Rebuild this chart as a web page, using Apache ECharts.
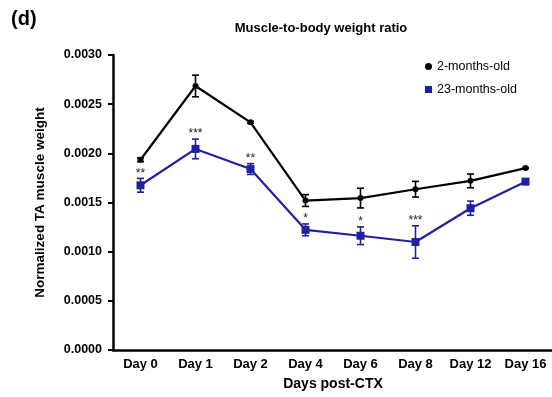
<!DOCTYPE html>
<html><head><meta charset="utf-8">
<script src="https://cdn.jsdelivr.net/npm/echarts@6/dist/echarts.min.js"></script>
<style>html,body{margin:0;padding:0;background:#fff}#c{width:552px;height:397px}</style>
</head><body><div id="c"></div>
<script>
const categories = ["Day 0","Day 1","Day 2","Day 4","Day 6","Day 8","Day 12","Day 16"];
const youngMean = [0.001935,0.002685,0.002315,0.001520,0.001545,0.001635,0.001720,0.001850];
const youngErr  = [0.000020,0.000110,0.000010,0.000060,0.000100,0.000080,0.000070,0.000005];
const oldMean   = [0.001675,0.002045,0.001840,0.001222,0.001162,0.001098,0.001442,0.001712];
const oldErr    = [0.000070,0.000100,0.000055,0.000060,0.000090,0.000165,0.000072,0.000008];
const stars     = ["**","***","**","*","*","***","",""];
const yTicks = {min:0, max:0.003, interval:0.0005};

const FONT = "Liberation Sans";
const BLACK = "#000000";
const BLUE = "#1e22a0";

function errData(mean, err){ return mean.map((m,i)=>[i, m-err[i], m+err[i]]); }
function errRender(color){
  return function(params, api){
    const x = api.value(0);
    const lo = api.coord([x, api.value(1)]);
    const hi = api.coord([x, api.value(2)]);
    const hw = 3.5;
    const st = {stroke: color, lineWidth: 1.6};
    return {type:'group', children:[
      {type:'line', shape:{x1:lo[0],y1:lo[1],x2:hi[0],y2:hi[1]}, style:st},
      {type:'line', shape:{x1:lo[0]-hw,y1:lo[1],x2:lo[0]+hw,y2:lo[1]}, style:st},
      {type:'line', shape:{x1:hi[0]-hw,y1:hi[1],x2:hi[0]+hw,y2:hi[1]}, style:st}
    ]};
  };
}

const chart = echarts.init(document.getElementById('c'), null, {renderer:'canvas'});
chart.setOption({
  animation:false,
  backgroundColor:'#fff',
  title:[
    {text:'(d)', left:6, top:4, textStyle:{fontFamily:FONT, fontWeight:'bold', fontSize:20, color:BLACK}},
    {text:'Muscle-to-body weight ratio', left:316, top:17, textAlign:'center', textStyle:{fontFamily:FONT, fontWeight:'bold', fontSize:13, color:BLACK}}
  ],
  legend:{
    orient:'vertical', left:420, top:55, itemGap:10, itemWidth:7, itemHeight:7,
    textStyle:{fontFamily:FONT, fontSize:12.5, color:BLACK},
    data:[{name:'2-months-old', icon:'circle'},{name:'23-months-old', icon:'rect'}]
  },
  grid:{left:113, right:-1, top:55, bottom:47, containLabel:false, outerBoundsMode:'none'},
  xAxis:{
    type:'category', data:categories, boundaryGap:true,
    name:'Days post-CTX', nameLocation:'middle', nameGap:27,
    nameTextStyle:{fontFamily:FONT, fontWeight:'bold', fontSize:14, color:BLACK},
    axisLine:{lineStyle:{color:BLACK, width:2.5}},
    axisTick:{alignWithLabel:true, length:5, lineStyle:{color:BLACK, width:2}},
    axisLabel:{fontFamily:FONT, fontWeight:'bold', fontSize:13, color:BLACK, margin:8}
  },
  yAxis:{
    type:'value', min:yTicks.min, max:yTicks.max, interval:yTicks.interval,
    name:'Normalized TA muscle weight', nameLocation:'middle', nameGap:66, nameRotate:90,
    nameTextStyle:{fontFamily:FONT, fontWeight:'bold', fontSize:13.5, color:BLACK},
    splitLine:{show:false},
    axisLine:{show:true, lineStyle:{color:BLACK, width:2.5}},
    axisTick:{show:true, length:5, lineStyle:{color:BLACK, width:2}},
    axisLabel:{fontFamily:FONT, fontWeight:'bold', fontSize:12.5, color:BLACK, margin:11,
      formatter:v=>v.toFixed(4)}
  },
  series:[
    {name:'2-months-old', type:'line', data:youngMean, symbol:'circle', symbolSize:6,
      itemStyle:{color:BLACK}, lineStyle:{color:BLACK, width:2.2}, z:3},
    {name:'23-months-old', type:'line', data:oldMean, symbol:'rect', symbolSize:8,
      itemStyle:{color:BLUE}, lineStyle:{color:BLUE, width:2.2}, z:3},
    {type:'custom', data:errData(youngMean,youngErr), renderItem:errRender(BLACK), z:4,
      encode:{x:0,y:[1,2]}, silent:true},
    {type:'custom', data:errData(oldMean,oldErr), renderItem:errRender(BLUE), z:4,
      encode:{x:0,y:[1,2]}, silent:true},
    {type:'custom', data:oldMean.map((m,i)=>[i, m+oldErr[i], stars[i]]), z:5, silent:true,
      encode:{x:0,y:1},
      renderItem:function(params, api){
        const p = api.coord([api.value(0), api.value(1)]);
        return {type:'text', style:{text:stars[params.dataIndex], x:p[0], y:p[1]+1,
          align:'center', verticalAlign:'bottom', fontFamily:FONT, fontSize:12, fill:'#222'}};
      }}
  ]
});
</script></body></html>
